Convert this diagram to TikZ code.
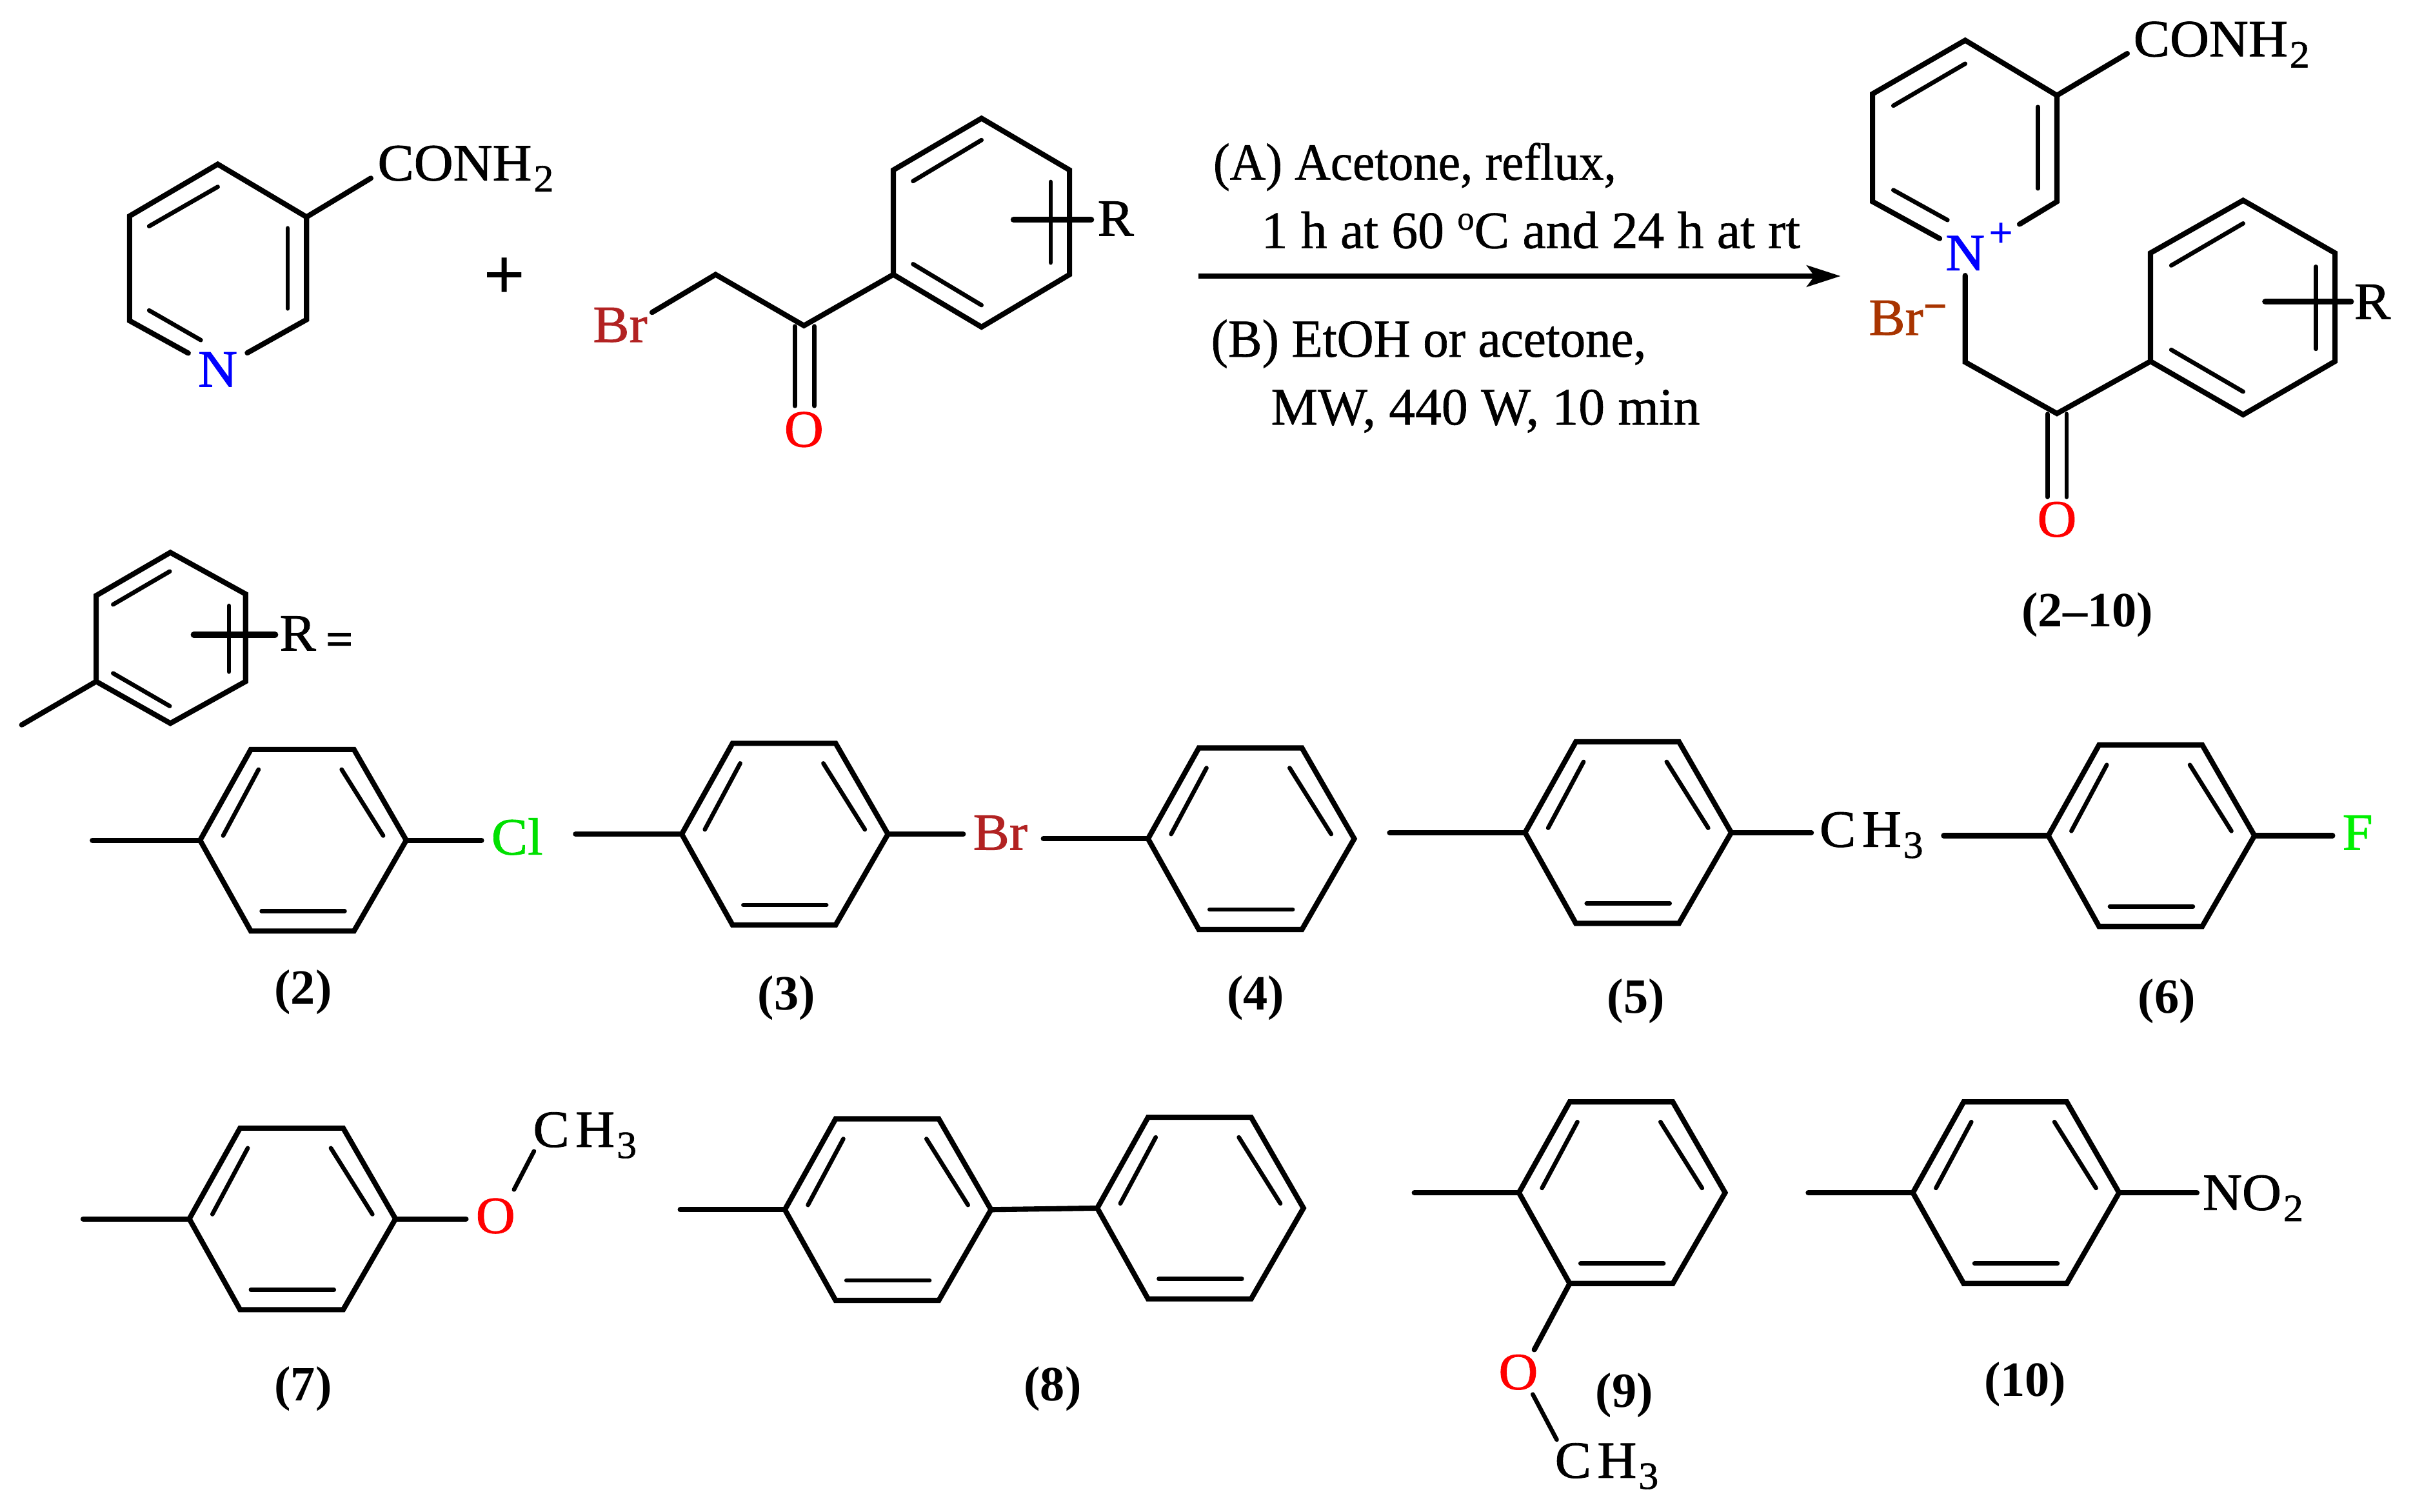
\documentclass[tikz,border=0pt]{standalone}
\usepackage{fontspec}
\setmainfont{Liberation Serif}
\newfontfamily\atomf[FakeBold=1.1,FakeStretch=1.04]{Liberation Serif}
\newfontfamily\condf[FakeBold=0.8]{Liberation Serif}
\newfontfamily\condn[FakeBold=0.8,FakeStretch=0.95]{Liberation Serif}
\newfontfamily\heavyf[FakeBold=3]{Liberation Serif}
\usetikzlibrary{arrows.meta}
\definecolor{brc}{HTML}{B22222}
\definecolor{brion}{HTML}{A83400}
\definecolor{clc}{HTML}{00E000}
\definecolor{fc}{HTML}{00F000}
\newcommand\lowx[1]{\kern0.6pt\raisebox{-3.6pt}{\fontsize{12.5}{14}\selectfont #1}}
\tikzset{
  bond/.style={line width=1.7pt,line cap=round,line join=miter},
  inbond/.style={line width=1.4pt,line cap=round},
  crossbond/.style={line width=2pt,line cap=round},
  atom/.style={inner sep=0pt,anchor=base,yshift=-5.6pt,font=\atomf\fontsize{17}{20}\selectfont},
  atomw/.style={atom,anchor=base west},
  clip atom/.style={atom,inner xsep=3pt,inner ysep=3pt},
  cmpd/.style={inner sep=0pt,anchor=base,yshift=-5.6pt,font=\fontsize{16}{20}\selectfont\bfseries},
  cond/.style={inner sep=0pt,anchor=base west,yshift=-5.6pt,font=\condf\fontsize{17.1}{20}\selectfont},
  react/.style={line width=1.5pt,-{Stealth[length=11pt,width=7pt,inset=2.5pt]}}
}
% flat-topped para-substituted ring: name, centre x, centre y
\newcommand\flatring[3]{%
  \coordinate (#1l) at (#2-67,#3);
  \coordinate (#1tl) at (#2-34,#3-59);
  \coordinate (#1tr) at (#2+33,#3-59);
  \coordinate (#1r) at (#2+67,#3);
  \coordinate (#1br) at (#2+33,#3+59);
  \coordinate (#1bl) at (#2-34,#3+59);
  \draw[bond] (#1l) -- (#1tl) -- (#1tr) -- (#1r) -- (#1br) -- (#1bl) -- cycle;
  \coordinate (#1a1) at (#2-52,#3-3);
  \coordinate (#1a2) at (#2-29,#3-46);
  \coordinate (#1b1) at (#2+25,#3-46);
  \coordinate (#1b2) at (#2+52,#3-3);
  \coordinate (#1c1) at (#2-27,#3+46);
  \coordinate (#1c2) at (#2+27,#3+46);
  \draw[inbond] (#1a1) -- (#1a2);
  \draw[inbond] (#1b1) -- (#1b2);
  \draw[inbond] (#1c1) -- (#1c2);
}
\begin{document}
\begin{tikzpicture}[x=0.5pt,y=-0.5pt]
\useasboundingbox (0,0) rectangle (1568,982.4);

%% nicotinamide
\node[clip atom,text=blue] (N1) at (141.5,240) {N};
\node[atomw] (con1) at (245,106) {CONH\lowx{2}};
\coordinate (p1t) at (141.5,106.7);
\coordinate (p1ul) at (84.2,140.4);
\coordinate (p1ll) at (84.2,208.4);
\coordinate (p1ur) at (199.2,141);
\coordinate (p1lr) at (199.2,207.7);
\coordinate (p1e) at (241,115.8);
\draw[bond] (N1) -- (p1ll) -- (p1ul) -- (p1t) -- (p1ur) -- (p1lr) -- (N1);
\draw[bond] (p1ur) -- (p1e);
\coordinate (p1a) at (96.9,147); \coordinate (p1b) at (141.5,121.4);
\coordinate (p1c) at (187,148.3); \coordinate (p1d) at (187,200.5);
\coordinate (p1f) at (96.9,201.7); \coordinate (p1g) at (130.5,221);
\draw[inbond] (p1a) -- (p1b);
\draw[inbond] (p1c) -- (p1d);
\draw[inbond] (p1f) -- (p1g);

%% plus
\node[inner sep=0pt,font=\fontsize{24}{26}\selectfont\bfseries] (plus) at (328,181) {+};

%% bromoacetophenone
\node[clip atom,text=brc] (Br1) at (403,211) {Br};
\node[atom,text=red] (O1) at (522.4,279) {O};
\node[atom] (R1) at (725,142) {R};
\coordinate (k1ch) at (465,178.4);
\coordinate (k1co) at (522.4,211.6);
\coordinate (k1i) at (580.5,178.4);
\coordinate (k1ul) at (580.5,110.5);
\coordinate (k1t) at (637.8,76.9);
\coordinate (k1ur) at (695,110.5);
\coordinate (k1lr) at (695,178.4);
\coordinate (k1b) at (637.8,212.5);
\coordinate (k1e) at (423.7,203);
\draw[bond] (k1e) -- (k1ch) -- (k1co) -- (k1i);
\draw[bond] (k1i) -- (k1ul) -- (k1t) -- (k1ur) -- (k1lr) -- (k1b) -- cycle;
\coordinate (k1a) at (593.3,117.7); \coordinate (k1bb) at (637.8,91);
\coordinate (k1c) at (682.8,118.2); \coordinate (k1d) at (682.8,170.7);
\coordinate (k1f) at (593.3,171.6); \coordinate (k1g) at (637.8,198.3);
\draw[inbond] (k1a) -- (k1bb);
\draw[inbond] (k1c) -- (k1d);
\draw[inbond] (k1f) -- (k1g);
\coordinate (k1o1) at (516.5,212); \coordinate (k1o2) at (516.5,263.8);
\coordinate (k1o3) at (529.2,212); \coordinate (k1o4) at (529.2,263.8);
\draw[inbond] (k1o1) -- (k1o2);
\draw[inbond] (k1o3) -- (k1o4);
\coordinate (k1x) at (658.7,142.8); \coordinate (k1y) at (709,142.8);
\draw[crossbond] (k1x) -- (k1y);

%% arrow and conditions
\coordinate (arrS) at (778.8,179.4);
\coordinate (arrE) at (1196,179.4);
\draw[react] (arrS) -- (arrE);
\node[cond,font=\condn\fontsize{17}{20}\selectfont] (condA) at (788,105.6) {(A) Acetone, reflux,};
\node[cond] (condA2) at (819.3,150) {1 h at 60 \raisebox{6pt}{\fontsize{11}{12}\selectfont o}C and 24 h at rt};
\node[cond,font=\condn\fontsize{17.4}{20}\selectfont] (condB) at (786.6,220.6) {(B) EtOH or acetone,};
\node[cond] (condB2) at (825.5,264.7) {MW, 440 W, 10 min};

%% product
\node[atom,inner xsep=3pt,inner ysep=3pt,text=blue] (N2) at (1277,164.4) {N};
\node[inner sep=0pt,text=blue,font=\fontsize{14}{16}\selectfont\bfseries] (Nplus) at (1300.3,153) {+};
\node[atomw] (con2) at (1386,25.4) {CONH\lowx{2}};
\node[atomw,text=brion] (Br2) at (1214,206.4) {Br\raisebox{5pt}{\fontsize{13}{14}\selectfont\bfseries −}};
\node[atom,text=red] (O2) at (1336.6,337.4) {O};
\node[atom] (R2) at (1541.6,196) {R};
\node[cmpd] (c210) at (1356.4,396.2) {(2–10)};
\coordinate (p2t) at (1277,26.2);
\coordinate (p2ul) at (1216.8,61);
\coordinate (p2ll) at (1216.8,131);
\coordinate (p2ur) at (1336.6,62);
\coordinate (p2lr) at (1336.6,131);
\coordinate (p2e) at (1382.3,34.8);
\coordinate (p2n) at (1260.4,155);
\coordinate (p2m) at (1312.3,145.7);
\draw[bond] (p2n) -- (p2ll) -- (p2ul) -- (p2t) -- (p2ur) -- (p2lr) -- (p2m);
\draw[bond] (p2ur) -- (p2e);
\coordinate (p2a) at (1230.3,68.7); \coordinate (p2b) at (1277,41.4);
\coordinate (p2c) at (1324.2,69.5); \coordinate (p2d) at (1324.2,122.5);
\coordinate (p2f) at (1230.3,123.5); \coordinate (p2g) at (1265.5,143);
\draw[inbond] (p2a) -- (p2b);
\draw[inbond] (p2c) -- (p2d);
\draw[inbond] (p2f) -- (p2g);
\coordinate (k2s) at (1277,179);
\coordinate (k2ch) at (1277,235.3);
\coordinate (k2co) at (1336.6,268.7);
\coordinate (k2i) at (1397.4,234.8);
\coordinate (k2ul) at (1397.4,164.4);
\coordinate (k2t) at (1457.6,130.2);
\coordinate (k2ur) at (1517.3,164.4);
\coordinate (k2lr) at (1517.3,234.8);
\coordinate (k2b) at (1457.6,269.5);
\draw[bond] (k2s) -- (k2ch) -- (k2co) -- (k2i);
\draw[bond] (k2i) -- (k2ul) -- (k2t) -- (k2ur) -- (k2lr) -- (k2b) -- cycle;
\coordinate (k2a) at (1410.9,172.5); \coordinate (k2bb) at (1457.6,145.2);
\coordinate (k2c) at (1504.8,173.3); \coordinate (k2d) at (1504.8,226.7);
\coordinate (k2f) at (1410.9,227.3); \coordinate (k2g) at (1457.6,254.5);
\draw[inbond] (k2a) -- (k2bb);
\draw[inbond] (k2c) -- (k2d);
\draw[inbond] (k2f) -- (k2g);
\coordinate (k2o1) at (1330.4,269); \coordinate (k2o2) at (1330.4,323);
\coordinate (k2o3) at (1342.9,269); \coordinate (k2o4) at (1342.9,323);
\draw[inbond] (k2o1) -- (k2o2);
\draw[inbond] (k2o3) -- (k2o4);
\coordinate (k2x) at (1472,196); \coordinate (k2y) at (1527.6,196);
\draw[crossbond] (k2x) -- (k2y);

%% R = key
\node[atom] (R3) at (193.5,411.5) {R};
\node[inner sep=0pt,font=\heavyf\fontsize{15}{20}\selectfont] (eq) at (220.5,418.5) {=};
\coordinate (kt) at (110.7,359);
\coordinate (kul) at (62.5,387);
\coordinate (kur) at (159.6,386);
\coordinate (kll) at (62.5,442.8);
\coordinate (klr) at (159.6,442.8);
\coordinate (kb) at (110.7,470);
\coordinate (ks) at (14.1,471);
\draw[bond] (kt) -- (kul) -- (kll) -- (kb) -- (klr) -- (kur) -- cycle;
\draw[bond] (kll) -- (ks);
\coordinate (ka) at (73.5,392.8); \coordinate (kbb) at (110.3,371.3);
\coordinate (kc) at (148.8,393.6); \coordinate (kd) at (148.8,436.5);
\coordinate (kf) at (73.5,437.5); \coordinate (kg) at (110.3,458.8);
\draw[inbond] (ka) -- (kbb);
\draw[inbond] (kc) -- (kd);
\draw[inbond] (kf) -- (kg);
\coordinate (kx) at (125.9,412.5); \coordinate (ky) at (178.8,412.5);
\draw[crossbond] (kx) -- (ky);

%% substituent (2)
\flatring{a}{197}{546}
\coordinate (as) at (60,546);
\draw[bond] (as) -- (al);
\node[clip atom,text=clc] (Cl) at (336,544) {Cl};
\draw[bond] (ar) -- (ar -| Cl.west);
\node[cmpd] (c2) at (197,641) {(2)};

%% substituent (3)
\flatring{b}{510}{542}
\coordinate (bs) at (374,542);
\draw[bond] (bs) -- (bl);
\node[clip atom,text=brc] (Br3) at (650,541) {Br};
\draw[bond] (br) -- (br -| Br3.west);
\node[cmpd] (c3) at (511,645) {(3)};

%% substituent (4)
\flatring{c}{813}{545}
\coordinate (cs) at (678,545);
\draw[bond] (cs) -- (cl);
\node[cmpd] (c4) at (816,645) {(4)};

%% substituent (5)
\flatring{d}{1058}{541}
\coordinate (ds) at (903,541);
\coordinate (de) at (1177,541);
\draw[bond] (ds) -- (dl);
\draw[bond] (dr) -- (de);
\node[atomw] (ch5) at (1182,539) {C\kern2pt H\lowx{3}};
\node[cmpd] (c5) at (1063,647) {(5)};

%% substituent (6)
\flatring{e}{1398}{543}
\coordinate (es) at (1263,543);
\draw[bond] (es) -- (el);
\node[clip atom,text=fc] (F6) at (1532,541) {F};
\draw[bond] (er) -- (er -| F6.west);
\node[cmpd] (c6) at (1408,647) {(6)};

%% substituent (7)
\flatring{f}{190}{792}
\coordinate (fs) at (54,792);
\draw[bond] (fs) -- (fl);
\node[clip atom,text=red] (O7) at (322,790) {O};
\draw[bond] (fr) -- (fr -| O7.west);
\coordinate (f1) at (334,773);
\coordinate (f2) at (347,748);
\draw[inbond] (f1) -- (f2);
\node[atomw] (ch7) at (346,734) {C\kern2pt H\lowx{3}};
\node[cmpd] (c7) at (197,899) {(7)};

%% substituent (8)
\flatring{g}{577}{786}
\flatring{h}{780}{785}
\coordinate (gs) at (442,786);
\draw[bond] (gs) -- (gl);
\draw[bond] (gr) -- (hl);
\node[cmpd] (c8) at (684,899) {(8)};

%% substituent (9)
\flatring{i}{1054}{775}
\coordinate (is) at (919,775);
\draw[bond] (is) -- (il);
\coordinate (ie) at (997,877);
\draw[bond] (ibl) -- (ie);
\node[atom,text=red] (O9) at (986.6,891.5) {O};
\coordinate (i1) at (996,906);
\coordinate (i2) at (1011.6,935.5);
\draw[inbond] (i1) -- (i2);
\node[atomw] (ch9) at (1010,949) {C\kern2pt H\lowx{3}};
\node[cmpd] (c9) at (1055.5,903) {(9)};

%% substituent (10)
\flatring{j}{1310}{775}
\coordinate (js) at (1175,775);
\coordinate (je) at (1427.6,775);
\draw[bond] (js) -- (jl);
\draw[bond] (jr) -- (je);
\node[atomw] (no) at (1431,775) {NO\lowx{2}};
\node[cmpd] (c10) at (1316,896) {(10)};
\end{tikzpicture}
\end{document}
